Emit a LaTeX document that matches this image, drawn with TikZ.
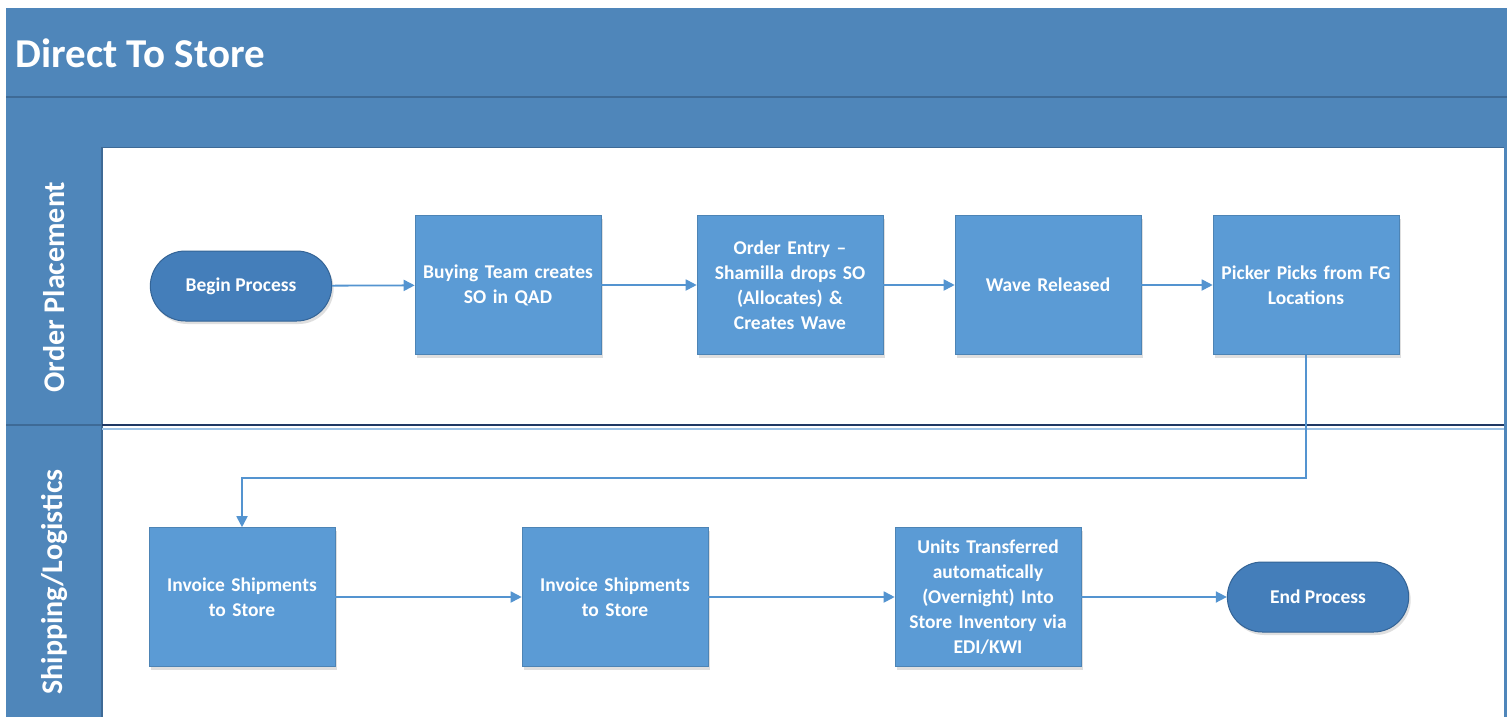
\documentclass[tikz,border=0pt]{standalone}
\usepackage{fontspec}
\setmainfont{Carlito}
\usetikzlibrary{shapes.misc,shadows,arrows.meta}
\definecolor{band}{RGB}{79,134,186}
\definecolor{bandline}{RGB}{62,106,150}
\definecolor{boxfill}{RGB}{91,155,213}
\definecolor{termfill}{RGB}{68,126,186}
\definecolor{termline}{RGB}{52,100,150}
\definecolor{navy}{RGB}{31,56,100}
\definecolor{lightblue}{RGB}{157,195,230}
\definecolor{conn}{RGB}{84,148,208}
\tikzset{
  procbox/.style={rectangle, fill=boxfill, draw=boxfill!85!black, line width=0.6pt,
    minimum width=186pt, minimum height=139pt, text width=176pt, align=center,
    text=white, font=\fontsize{19.5}{25}\selectfont\bfseries, inner sep=2pt,
    drop shadow={opacity=0.25, shadow xshift=2pt, shadow yshift=-3pt}},
  termbox/.style={rounded rectangle, fill=termfill, draw=termline, line width=1pt,
    minimum width=188pt, minimum height=70pt, align=center,
    text=white, font=\fontsize{19.5}{25}\selectfont\bfseries,
    drop shadow={opacity=0.25, shadow xshift=2pt, shadow yshift=-3pt}},
  flow/.style={draw=conn, line width=1.8pt, -{Triangle[length=11pt,width=11pt]}},
  lanetext/.style={text=white, font=\fontsize{30}{34}\selectfont\bfseries, rotate=90},
}
\begin{document}
\begin{tikzpicture}[x=1pt,y=-1pt]
\useasboundingbox (0,0) rectangle (1512,717);
\fill[white] (0,0) rectangle (1512,717);
% header bands
\fill[band] (6,8) rectangle (1507,147);
\draw[bandline, line width=1.5pt] (6,97) -- (1507,97);
\draw[bandline, line width=1pt] (6,147) -- (1507,147);
% lane header column
\fill[band] (6,147) rectangle (102,717);
\draw[bandline, line width=1.5pt] (102,147) -- (102,717);
\draw[bandline, line width=1.5pt] (6,425) -- (102,425);
% right frame
\draw[band, line width=3pt] (1505.5,147) -- (1505.5,717);
% lane divider
\draw[lightblue, line width=2pt] (102,428.5) -- (1504,428.5);
\draw[navy, line width=2pt] (102,425) -- (1504,425);
% title and lane labels
\node[anchor=west, text=white, font=\fontsize{41}{46}\selectfont\bfseries] (title) at (12,53) {Direct To Store};
\node[lanetext] (lane1) at (54,287) {Order Placement};
\node[lanetext] (lane2) at (54,582) {Shipping/Logistics};
% lane 1
\node[termbox] (begin) at (241,286) {Begin Process};
\node[procbox] (buy) at (508,285) {Buying Team creates\\SO in QAD};
\node[procbox] (entry) at (790,285) {Order Entry --\\Shamilla drops SO\\(Allocates) \&\\Creates Wave};
\node[procbox] (wave) at (1048,285) {Wave Released};
\node[procbox] (pick) at (1306,285) {Picker Picks from FG\\Locations};
% lane 2
\node[procbox] (inv1) at (242,597) {Invoice Shipments\\to Store};
\node[procbox] (inv2) at (615,597) {Invoice Shipments\\to Store};
\node[procbox] (units) at (988,597) {Units Transferred\\automatically\\(Overnight) Into\\Store Inventory via\\EDI/KWI};
\node[termbox] (end) at (1318,597) {End Process};
% connectors
\draw[flow] (begin) -- (buy);
\draw[flow] (buy) -- (entry);
\draw[flow] (entry) -- (wave);
\draw[flow] (wave) -- (pick);
\coordinate (turn) at (0,478);
\draw[flow] (pick.south) -- (pick.south |- turn) -| (inv1.north);
\draw[flow] (inv1) -- (inv2);
\draw[flow] (inv2) -- (units);
\draw[flow] (units) -- (end);
\end{tikzpicture}
\end{document}
